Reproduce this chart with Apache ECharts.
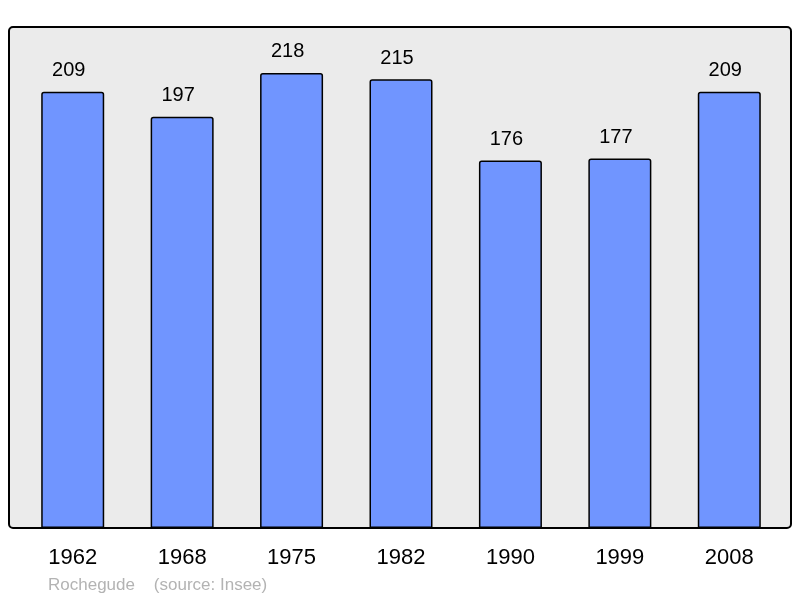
<!DOCTYPE html>
<html>
<head>
<meta charset="utf-8">
<script src="https://cdn.jsdelivr.net/npm/echarts@6/dist/echarts.min.js"></script>
<style>
  html, body { margin: 0; padding: 0; background: #fff; }
  #chart { width: 800px; height: 598px; }
</style>
</head>
<body>
<div id="chart"></div>
<script>
// données
var years = ['1962', '1968', '1975', '1982', '1990', '1999', '2008'];
var population = [209, 197, 218, 215, 176, 177, 209];

var chart = echarts.init(document.getElementById('chart'));

var option = {
    animation: false,
    textStyle: { fontFamily: 'Liberation Sans, Arial, sans-serif' },
    graphic: [
        {
            type: 'rect',
            z: -10,
            shape: { x: 9, y: 27, width: 782, height: 501, r: 4 },
            style: { fill: '#ebebeb', stroke: '#000', lineWidth: 2 }
        },
        {
            type: 'text',
            left: 48,
            top: 577,
            style: {
                text: 'Rochegude    (source: Insee)',
                fill: '#b3b3b3',
                font: '17px "Liberation Sans", Arial, sans-serif'
            }
        }
    ],
    grid: { left: 18, width: 766, top: 27, bottom: 70 },
    xAxis: {
        type: 'category',
        data: years,
        axisLine: { show: false },
        axisTick: { show: false },
        axisLabel: { color: '#000', fontSize: 22, margin: 19 }
    },
    yAxis: {
        type: 'value',
        min: 0,
        max: 240,
        show: false,
        splitLine: { show: false }
    },
    series: [{
        type: 'bar',
        data: population,
        barWidth: 63,
        itemStyle: {
            color: '#7095ff',
            borderColor: '#000',
            borderWidth: 1.5,
            borderRadius: [2, 2, 0, 0]
        },
        label: {
            show: true,
            position: 'top',
            distance: 11,
            offset: [-4, 0],
            color: '#000',
            fontSize: 20
        }
    }]
};

chart.setOption(option);
</script>
</body>
</html>
